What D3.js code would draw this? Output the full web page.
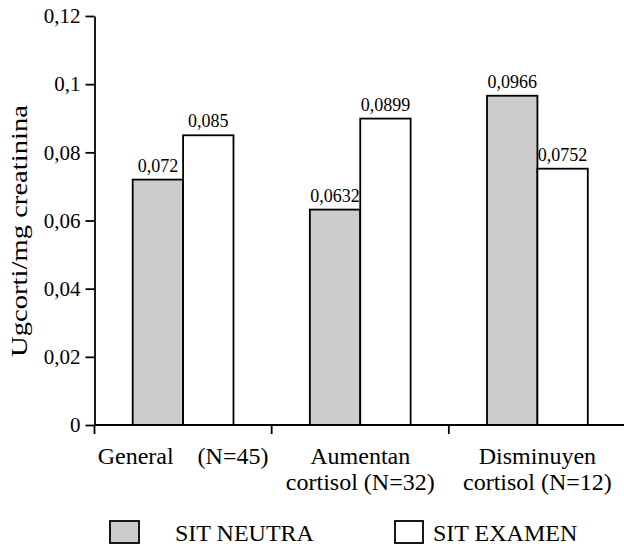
<!DOCTYPE html>
<html>
<head>
<meta charset="utf-8">
<script src="https://cdn.jsdelivr.net/npm/d3@7"></script>
<style>
  html, body { margin: 0; padding: 0; background: #fff; }
  svg { display: block; }
  text { font-family: "Liberation Serif", "Times New Roman", Times, serif; fill: #000; }
</style>
</head>
<body>
<svg id="chart" width="624" height="548"></svg>
<script>
// ---- data ----
const categories = ["General    (N=45)", "Aumentan\ncortisol (N=32)", "Disminuyen\ncortisol (N=12)"];
const seriesNames = ["SIT NEUTRA", "SIT EXAMEN"];
const sitNeutra = [0.072, 0.0632, 0.0966];
const sitExamen = [0.085, 0.0899, 0.0752];
const yTicks = [0, 0.02, 0.04, 0.06, 0.08, 0.1, 0.12];
const yLabel = "Ugcorti/mg creatinina";

// ---- styles ----
const fills = ["#cccccc", "#ffffff"];
const fmt = v => String(+v.toFixed(4)).replace(".", ",");
const SW = 1.8;

const svg = d3.select("#chart");
const x0 = 94.5, x1 = 626, yTop = 16, yBot = 425;

const x = d3.scaleBand().domain(categories).range([x0, x1]).paddingInner(0).paddingOuter(0);
const xs = d3.scaleBand().domain(seriesNames).range([0, x.bandwidth()]).paddingInner(0).paddingOuter(0.758);
const y = d3.scaleLinear().domain([0, 0.12]).range([yBot, yTop]);

const rows = categories.map((c, i) => ({ cat: c, vals: [sitNeutra[i], sitExamen[i]] }));

// bars
const g = svg.append("g");
const groups = g.selectAll("g.grp").data(rows).join("g")
  .attr("class", "grp")
  .attr("transform", d => `translate(${x(d.cat)},0)`);

groups.selectAll("rect").data(d => d.vals.map((v, j) => ({ v, s: seriesNames[j], j })))
  .join("rect")
  .attr("x", d => xs(d.s))
  .attr("width", xs.bandwidth())
  .attr("y", d => y(d.v))
  .attr("height", d => y(0) - y(d.v))
  .attr("fill", d => fills[d.j])
  .attr("stroke", "#000")
  .attr("stroke-width", SW);

groups.selectAll("text.val").data(d => d.vals.map((v, j) => ({ v, s: seriesNames[j], j })))
  .join("text")
  .attr("class", "val")
  .attr("x", d => xs(d.s) + xs.bandwidth() / 2)
  .attr("y", d => y(d.v) - 8)
  .attr("text-anchor", "middle")
  .attr("font-size", 18)
  .text(d => fmt(d.v));

// y axis
const yAxis = d3.axisLeft(y).tickValues(yTicks).tickFormat(fmt).tickSize(9).tickSizeOuter(0).tickPadding(5);
const ya = svg.append("g").attr("transform", `translate(${x0},0)`).call(yAxis);
ya.selectAll("path, line").attr("stroke", "#000").attr("stroke-width", SW);
ya.selectAll("text").attr("font-size", 21).attr("fill", "#000");

// x axis
const xa = svg.append("g");
xa.append("line").attr("x1", x0).attr("x2", x1).attr("y1", y(0)).attr("y2", y(0))
  .attr("stroke", "#000").attr("stroke-width", SW);
xa.selectAll("line.tick").data(categories).join("line")
  .attr("class", "tick")
  .attr("x1", d => x(d)).attr("x2", d => x(d))
  .attr("y1", y(0)).attr("y2", y(0) + 9)
  .attr("stroke", "#000").attr("stroke-width", SW);

const catText = xa.selectAll("text.cat").data(categories).join("text")
  .attr("class", "cat")
  .attr("text-anchor", "middle")
  .attr("font-size", 24)
  .attr("xml:space", "preserve")
  .style("white-space", "pre");
catText.selectAll("tspan").data(d => d.split("\n").map(t => ({ t, c: d }))).join("tspan")
  .attr("x", d => x(d.c) + x.bandwidth() / 2)
  .attr("y", (d, i) => 464 + i * 26)
  .text(d => d.t);

// y label
svg.append("text")
  .attr("transform", "translate(27,231) rotate(-90)")
  .attr("text-anchor", "middle")
  .attr("font-size", 24)
  .attr("textLength", 252)
  .attr("lengthAdjust", "spacingAndGlyphs")
  .text(yLabel);

// legend
const legendX = [110, 395];
const leg = svg.append("g").selectAll("g").data(seriesNames).join("g")
  .attr("transform", (d, i) => `translate(${legendX[i]},521)`);
leg.append("rect")
  .attr("width", (d, i) => i === 0 ? 29 : 28)
  .attr("height", 22)
  .attr("fill", (d, i) => fills[i])
  .attr("stroke", "#000")
  .attr("stroke-width", SW);
leg.append("text")
  .attr("x", (d, i) => i === 0 ? 65 : 38)
  .attr("y", 20)
  .attr("font-size", 24)
  .text(d => d);
</script>
</body>
</html>
